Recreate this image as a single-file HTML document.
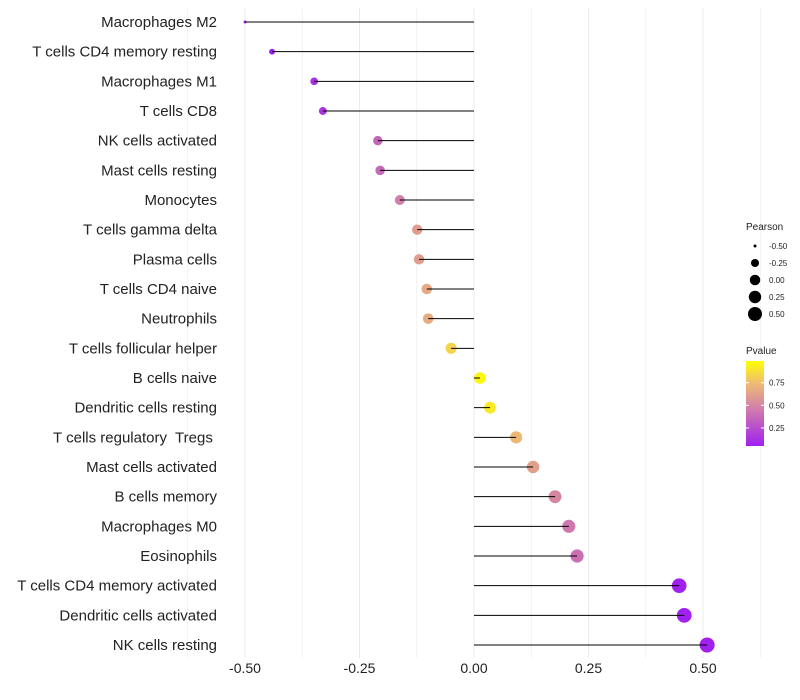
<!DOCTYPE html>
<html><head><meta charset="utf-8"><style>
body{margin:0;background:#fff;}
svg{display:block;font-family:"Liberation Sans",sans-serif;}
text{white-space:pre;}
</style></head><body>
<svg id="chart" width="800" height="700" viewBox="0 0 800 700"></svg>
<script>
const categories=["Macrophages M2","T cells CD4 memory resting","Macrophages M1","T cells CD8","NK cells activated","Mast cells resting","Monocytes","T cells gamma delta","Plasma cells","T cells CD4 naive","Neutrophils","T cells follicular helper","B cells naive","Dendritic cells resting","T cells regulatory  Tregs ","Mast cells activated","B cells memory","Macrophages M0","Eosinophils","T cells CD4 memory activated","Dendritic cells activated","NK cells resting"];
const pearson=[-0.50,-0.441,-0.349,-0.330,-0.210,-0.205,-0.162,-0.124,-0.120,-0.103,-0.100,-0.050,0.013,0.035,0.092,0.129,0.177,0.207,0.225,0.448,0.459,0.509];
const pvalue=[0.02,0.04,0.12,0.14,0.36,0.37,0.47,0.60,0.61,0.66,0.67,0.83,0.96,0.91,0.73,0.62,0.50,0.44,0.40,0.06,0.05,0.03];
const xTicks=[-0.5,-0.25,0,0.25,0.5];
const xTickLabels=["-0.50","-0.25","0.00","0.25","0.50"];
const sizeLegend=[-0.5,-0.25,0,0.25,0.5];
const pLegend=[0.75,0.5,0.25];

const NS="http://www.w3.org/2000/svg";
const svg=document.getElementById('chart');
function mk(t,a,p){const e=document.createElementNS(NS,t);for(const k in a)e.setAttribute(k,a[k]);(p||svg).appendChild(e);return e;}
const x=v=>474+v*458;
const y=i=>22+i*(623/21);
const rad=p=>1.5+6*Math.sqrt(Math.max(0,p+0.5));
function lerp(a,b,t){return a.map((v,i)=>Math.round(v+(b[i]-v)*t));}
const stops=[[0,[160,32,240]],[0.5,[216,138,160]],[0.75,[240,190,112]],[1,[255,255,0]]];
function col(p){
  const lo=0.05,hi=0.99;let t=Math.min(1,Math.max(0,(p-lo)/(hi-lo)));
  for(let i=0;i<stops.length-1;i++){if(t<=stops[i+1][0]){const c=lerp(stops[i][1],stops[i+1][1],(t-stops[i][0])/(stops[i+1][0]-stops[i][0]));return`rgb(${c})`;}}
  return 'rgb(255,255,0)';
}
for(let v=-0.625;v<=0.625;v+=0.125){
  const l=mk('line',{x1:x(v),x2:x(v),y1:8,y2:658,stroke:'#ebebeb','stroke-width':Math.abs((v*4)%1)<1e-6?1:0.6});
  
}
xTicks.forEach((v,i)=>{
  const t=mk('text',{x:x(v),y:673,'text-anchor':'middle','font-size':14,fill:'#222'});t.textContent=xTickLabels[i];
  
});
categories.forEach((c,i)=>{
  const t=mk('text',{x:217,y:y(i)+5,'text-anchor':'end','font-size':15,fill:'#222'});t.textContent=c;
  
  const d=mk('circle',{cx:x(pearson[i]),cy:y(i),r:rad(pearson[i]),fill:col(pvalue[i])});
  
  const s=mk('line',{x1:x(0),x2:x(pearson[i]),y1:y(i),y2:y(i),stroke:'#000','stroke-width':1});
  
});
let t=mk('text',{x:746,y:230,'font-size':10,fill:'#222'});t.textContent='Pearson';

sizeLegend.forEach((v,i)=>{
  const yy=246+i*17;
  const c=mk('circle',{cx:755,cy:yy,r:Math.max(1.5,Math.min(7,rad(v)-0.5)),fill:'#000'});
  
  const l=mk('text',{x:769,y:yy+3,'font-size':8,fill:'#222'});l.textContent=xTickLabels[i];
  
});
t=mk('text',{x:746,y:354,'font-size':10,fill:'#222'});t.textContent='Pvalue';

const defs=mk('defs',{});
const g=mk('linearGradient',{id:'pg',x1:0,y1:1,x2:0,y2:0},defs);
stops.forEach(s=>mk('stop',{offset:s[0],'stop-color':`rgb(${s[1]})`},g));
const bar=mk('rect',{x:746,y:361,width:18,height:85,fill:'url(#pg)'});

const py=p=>446-(p-0.05)/(0.94)*85;
pLegend.forEach(p=>{
  mk('line',{x1:746,x2:749,y1:py(p),y2:py(p),stroke:'#fff'});mk('line',{x1:761,x2:764,y1:py(p),y2:py(p),stroke:'#fff'});
  const l=mk('text',{x:769,y:py(p)+3,'font-size':8,fill:'#222'});l.textContent=p.toFixed(2);
  
});
</script>
</body></html>
